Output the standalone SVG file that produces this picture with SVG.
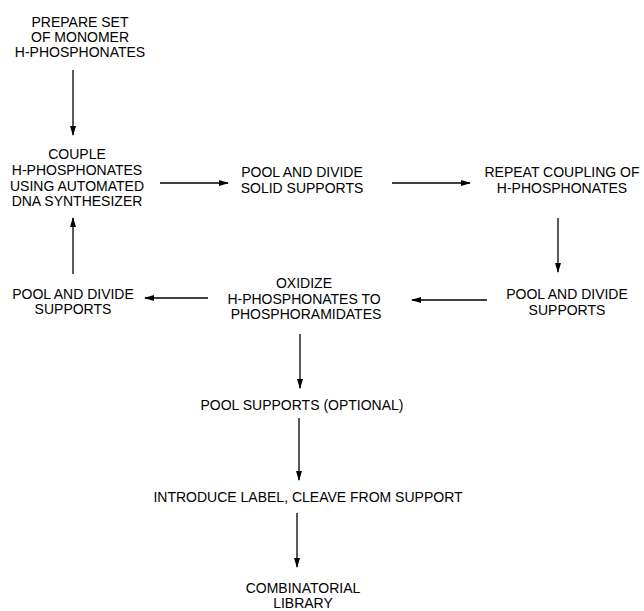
<svg xmlns="http://www.w3.org/2000/svg" width="644" height="611" viewBox="0 0 644 611">
<defs>
<style>
text{font-family:"Liberation Sans",Arial,sans-serif;font-size:14px;fill:#000;text-anchor:middle}
.c line{stroke:#000;stroke-width:1.3;fill:none}
</style>
<marker id="ah" markerUnits="userSpaceOnUse" markerWidth="10" markerHeight="8" refX="9" refY="3" orient="auto">
<path d="M0,0 L10,3 L0,6 Z" fill="#000"/>
</marker>
</defs>
<rect width="644" height="611" fill="#fff"/>
<g id="connectors" class="c">
<line x1="73" y1="70" x2="73" y2="135" marker-end="url(#ah)"/>
<line x1="160" y1="183" x2="228" y2="183" marker-end="url(#ah)"/>
<line x1="392" y1="183" x2="470" y2="183" marker-end="url(#ah)"/>
<line x1="558" y1="218" x2="558" y2="272" marker-end="url(#ah)"/>
<line x1="487" y1="300" x2="412" y2="300" marker-end="url(#ah)"/>
<line x1="208" y1="298" x2="145" y2="298" marker-end="url(#ah)"/>
<line x1="73" y1="274" x2="73" y2="218" marker-end="url(#ah)"/>
<line x1="300" y1="334" x2="300" y2="388" marker-end="url(#ah)"/>
<line x1="299" y1="418" x2="299" y2="480" marker-end="url(#ah)"/>
<line x1="297" y1="513" x2="297" y2="567" marker-end="url(#ah)"/>
</g>
<g id="prepare">
<text x="80" y="27">PREPARE SET</text>
<text x="80" y="42">OF MONOMER</text>
<text x="80" y="57">H-PHOSPHONATES</text>
</g>
<g id="couple">
<text x="77" y="159">COUPLE</text>
<text x="77" y="175">H-PHOSPHONATES</text>
<text x="77" y="191">USING AUTOMATED</text>
<text x="77" y="206">DNA SYNTHESIZER</text>
</g>
<g id="pool-solid">
<text x="302" y="177">POOL AND DIVIDE</text>
<text x="302" y="193">SOLID SUPPORTS</text>
</g>
<g id="repeat">
<text x="562" y="177">REPEAT COUPLING OF</text>
<text x="562" y="193">H-PHOSPHONATES</text>
</g>
<g id="pool-right">
<text x="567" y="299">POOL AND DIVIDE</text>
<text x="567" y="315">SUPPORTS</text>
</g>
<g id="oxidize">
<text x="304" y="288">OXIDIZE</text>
<text x="304" y="304">H-PHOSPHONATES TO</text>
<text x="306" y="319">PHOSPHORAMIDATES</text>
</g>
<g id="pool-left">
<text x="73" y="299">POOL AND DIVIDE</text>
<text x="73" y="314">SUPPORTS</text>
</g>
<g id="pool-optional">
<text x="302" y="410">POOL SUPPORTS (OPTIONAL)</text>
</g>
<g id="introduce">
<text x="308" y="502">INTRODUCE LABEL, CLEAVE FROM SUPPORT</text>
</g>
<g id="library">
<text x="303" y="593"><tspan x="303" y="593">COMBINATORIAL</tspan><tspan x="303" y="608">LIBRARY</tspan></text>
</g>
</svg>
